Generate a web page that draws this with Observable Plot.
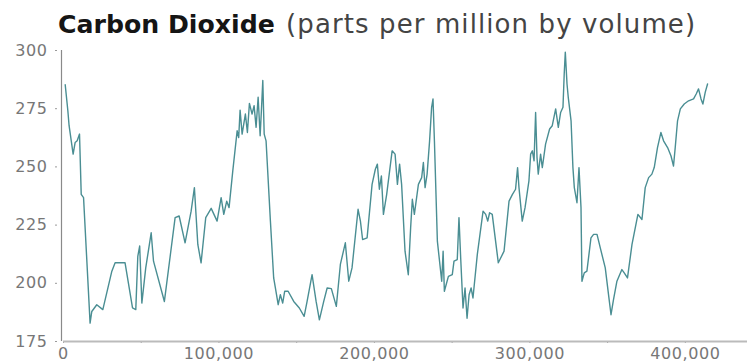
<!DOCTYPE html>
<html><head><meta charset="utf-8">
<script src="https://cdn.jsdelivr.net/npm/d3@7"></script>
<script src="https://cdn.jsdelivr.net/npm/@observablehq/plot@0.6"></script>
<style>
body{margin:0;background:#fff;}
#title{height:40px;box-sizing:border-box;padding:9px 0 0 58px;line-height:30px;font-family:"DejaVu Sans";font-size:26px;white-space:nowrap;overflow:hidden}
#title b{color:#151515;font-weight:bold;font-size:25.2px}
#title span{color:#444;letter-spacing:1.1px;margin-left:3px}
</style></head><body>
<div id="title"><b>Carbon Dioxide</b> <span>(parts per million by volume)</span></div>
<div id="chart"></div>
<script>
const years = [1100,2800,3600,6200,7500,8800,10300,11400,12900,17100,18200,21400,25300,31100,33200,39600,44400,46500,47800,49000,50400,52900,56400,57900,64900,71800,74400,78200,82100,84200,86400,88500,91500,95000,98800,101400,103100,105000,106500,
108900,111700,112700,113600,114900,117000,118300,119600,121300,122600,123900,125200,126500,127300,128200,129100,130300,133100,135200,136300,138100,139500,141000,142300,144500,148100,151700,154800,156700,159900,162500,164600,167400,169600,172300,175500,178100,181300,183500,185600,189500,191000,192400,195300,198500,200600,201900,203200,204500,205800,207900,211400,
213300,214800,216200,217500,219700,221800,223300,224400,225700,228300,230400,231500,232600,233900,235500,236800,237700,238600,240500,243300,244200,245000,247600,250100,251200,253300,254400,255500,257000,258300,259600,260900,262200,263400,266200,269900,271600,272900,274100,275800,279700,283400,286600,288800,290800,292100,293000,295100,296900,299400,300500,301600,302700,303700,304600,305400,306900,308000,310100,312700,314400,316600,318300,319800,321300,
322100,322800,323900,324700,326500,327700,328600,330300,331600,332900,333500,335000,336700,339300,341000,343200,345300,348500,350600,352200,353800,356000,359200,360700,362800,365700,369500,372100,374200,376400,378500,380000,382100,384300,386000,388600,390800,392400,393500,395000,396800,399300,402100,405300,407000,408500,410100,411300,412800,414300];
const co2 = [285.3,274.1,267.7,255.5,260.5,261.2,264.1,238.2,236.8,182.9,187.9,190.8,188.7,205.2,208.8,208.8,189.4,188.7,211.6,216,191.5,206.6,221.7,209.5,192.2,228.2,228.9,217.4,231,241.1,216.7,208.8,228.2,232.2,226.7,236.8,229.6,235.3,232.5,
248.3,265.5,262.6,274.4,264.1,272.7,264.8,277.3,272.7,276.3,267,279.9,263.4,274.1,287.1,264.1,261.2,226.7,202.3,198,190.8,195.1,191.5,196.6,196.6,192.2,189.4,185.8,192.2,203.7,192.2,184.3,192.2,198,197.7,190.1,208.1,217.4,200.9,206.6,231.8,226.7,218.8,219.5,242.5,249,251.2,240.4,246.1,229.6,238.2,256.9,
255.5,242.5,251.2,242.5,213.8,203.7,223.8,236.1,229.6,242.5,245.4,251.9,241.1,246.9,261.2,275.6,279.2,261.2,218.1,200.9,213.8,196.6,203,203.7,209.5,210.2,228.2,210.9,189.4,198,185,195.1,198,193.7,212.4,231,229.6,226.7,230.3,229.6,208.8,213.8,235.3,238.2,240.4,249.7,241.1,226.7,232.5,244,255.5,256.9,252.6,273.4,254,246.9,255.5,249.7,259.8,266.3,267.7,274.9,267,273.4,275.6,
290,299.3,285.6,279.9,269.8,249.7,241.1,234.6,249.7,232.5,200.9,204.5,205.2,219.5,221,221,215.2,206.6,195.1,186.5,193,200.9,205.9,204.5,202.3,216.7,229.6,227.4,241.1,245.4,246.9,249.7,258.3,264.8,261.2,258.3,254.7,250.4,258.3,269.8,274.9,277,278.4,279.2,281.3,283.5,279.2,277,282,285.6];
const yTicks = [175,200,225,250,275,300];
const xTicks = [0,50000,100000,150000,200000,250000,300000,350000,400000];
const xLabels = [0,100000,200000,300000,400000];

const data = years.map((y, i) => ({year: y, co2: co2[i]}));

const chart = Plot.plot({
  width: 747, height: 322,
  marginLeft: 63, marginRight: 0, marginTop: 10, marginBottom: 21,
  style: {fontFamily: "DejaVu Sans", fontSize: "16px", color: "#777", background: "#fff", overflow: "visible", letterSpacing: "0.6px"},
  x: {domain: [0, 440000]},
  y: {domain: [175, 300]},
  marks: [
    Plot.axisY({ticks: yTicks, tickSize: 2, dx: -6, tickPadding: 8, tickFormat: d3.format("d"), stroke: "#999", fill: "#777", label: null}),
    Plot.axisX({ticks: xTicks, tickSize: 2, tickPadding: 4, tickFormat: d => xLabels.includes(d) ? d3.format(",")(d) : "", stroke: "#999", fill: "#777", label: null}),
    Plot.ruleY([175], {stroke: "#bbb", strokeWidth: 2}),
    Plot.ruleX([0], {dx: -2, y1: 175, y2: 300, stroke: "#8a8a8a", strokeWidth: 1.2}),
    Plot.line(data, {x: "year", y: "co2", stroke: "#4a8e93", strokeWidth: 1.4})
  ]
});
document.getElementById("chart").appendChild(chart);
</script>
</body></html>
